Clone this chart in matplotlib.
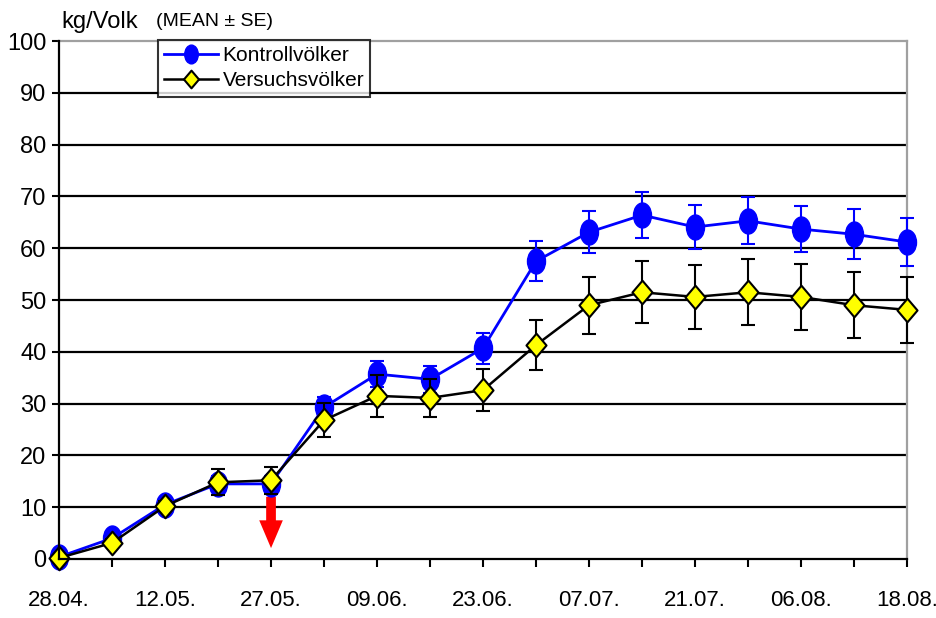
import numpy as np
import matplotlib
matplotlib.use('Agg')
from matplotlib import pyplot as plt
from matplotlib.lines import Line2D
from matplotlib.path import Path

plt.rcParams['font.family'] = ['Liberation Sans', 'DejaVu Sans']

# Messtermine (nur jeder zweite beschriftet)
date_labels = ['28.04.', '', '12.05.', '', '27.05.', '', '09.06.', '', '23.06.',
               '', '07.07.', '', '21.07.', '', '06.08.', '', '18.08.']

kontroll_mean = [0.4, 4.0, 10.5, 14.5, 14.5, 29.3, 35.7, 34.7, 40.7,
                 57.5, 63.1, 66.4, 64.1, 65.3, 63.7, 62.7, 61.2]
kontroll_se = [0.5, 0.8, 1.0, 1.5, 1.5, 2.0, 2.5, 2.6, 3.0,
               3.9, 4.1, 4.4, 4.3, 4.5, 4.5, 4.8, 4.6]

versuch_mean = [0.2, 3.1, 10.2, 14.8, 15.2, 26.8, 31.5, 31.1, 32.6,
                41.3, 49.0, 51.5, 50.6, 51.5, 50.6, 49.0, 48.1]
versuch_se = [0.4, 0.8, 1.0, 2.5, 2.6, 3.3, 4.1, 3.7, 4.0,
              4.8, 5.5, 6.0, 6.1, 6.4, 6.4, 6.4, 6.4]

behandlung_idx = 4  # Zeitpunkt der Behandlung (Pfeil)

x = np.arange(len(date_labels))

# leicht gestauchte Marker
circle = Path.unit_circle()
ellipse = Path(circle.vertices * [0.72, 1.0], circle.codes)
diamond = Path([(0, 1), (0.85, 0), (0, -1), (-0.85, 0), (0, 1)],
               [Path.MOVETO, Path.LINETO, Path.LINETO, Path.LINETO, Path.CLOSEPOLY])

blue_style = dict(color='#0000FF', lw=2, marker=ellipse, markersize=18,
                  markerfacecolor='#0000FF', markeredgecolor='#0000FF')
yellow_style = dict(color='black', lw=1.8, marker=diamond, markersize=17,
                    markerfacecolor='#FFFF00', markeredgecolor='black',
                    markeredgewidth=1.5)

fig = plt.figure(figsize=(9.37, 6.18), dpi=100)
ax = fig.add_axes([0.063, 0.0955, 0.905, 0.838])

for y in range(10, 100, 10):
    ax.axhline(y, color='black', lw=1.6, zorder=1)

ax.errorbar(x, kontroll_mean, yerr=kontroll_se, elinewidth=1.5, capsize=5,
            capthick=1.5, zorder=3, clip_on=False, **blue_style)
ax.errorbar(x, versuch_mean, yerr=versuch_se, elinewidth=1.5, capsize=5,
            capthick=1.5, zorder=4, clip_on=False, **yellow_style)

ax.annotate('', xy=(behandlung_idx, 2.1), xytext=(behandlung_idx, 12.0),
            arrowprops=dict(facecolor='#FF0000', edgecolor='none', width=7,
                            headwidth=17, headlength=20, shrink=0))

ax.set_xlim(0, len(date_labels) - 1)
ax.set_ylim(0, 100)
ax.set_yticks(range(0, 101, 10))
ax.set_xticks(x)
ax.set_xticklabels(date_labels)
ax.tick_params(axis='x', direction='out', length=6, width=1.5, pad=16, labelsize=16)
ax.tick_params(axis='y', direction='out', length=5, width=1.5, pad=4, labelsize=17)

for side in ['left', 'bottom']:
    ax.spines[side].set_linewidth(1.6)
    ax.spines[side].set_zorder(5)
for side in ['top', 'right']:
    ax.spines[side].set_color('#A0A0A0')
    ax.spines[side].set_linewidth(1.6)

fig.text(0.066, 0.965, 'kg/Volk', fontsize=17, va='center')
fig.text(0.167, 0.965, '(MEAN ± SE)', fontsize=14, va='center')

handles = [Line2D([], [], **blue_style), Line2D([], [], **yellow_style)]
leg = fig.legend(handles, ['Kontrollvölker', 'Versuchsvölker'],
                 loc='upper left', bbox_to_anchor=(158 / 937, 1 - 40 / 618),
                 fontsize=15, frameon=True, fancybox=False, handlelength=2.6,
                 borderpad=0.3, labelspacing=0.3, handletextpad=0.2,
                 borderaxespad=0, markerscale=0.75)
leg.get_frame().set_edgecolor('black')
leg.get_frame().set_linewidth(1.5)
leg.set_zorder(10)

fig.savefig('out.png', dpi=100)
